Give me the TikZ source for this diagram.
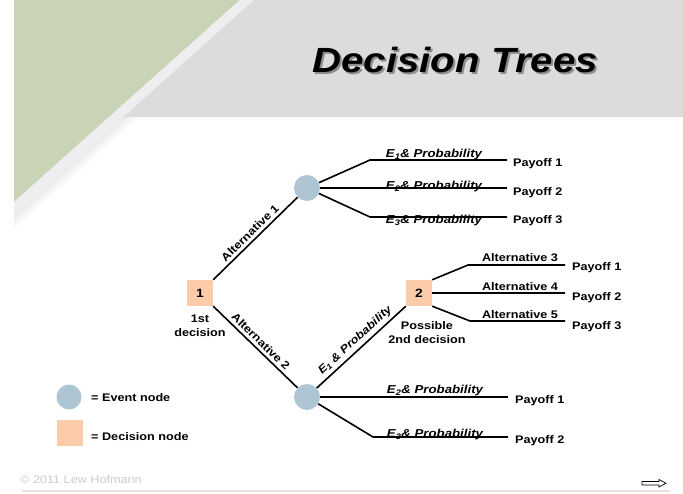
\documentclass[tikz,border=0pt]{standalone}
\usepackage{fontspec}
\setmainfont{Liberation Sans}[FakeStretch=1.15]
\definecolor{bandgray}{HTML}{DCDCDC}
\definecolor{wedge}{HTML}{C9D4B6}
\definecolor{stripe}{HTML}{EEEEF1}
\definecolor{peach}{HTML}{FCCBAA}
\definecolor{evblue}{HTML}{AEC6D4}
\definecolor{copygray}{HTML}{CCCCCC}
\definecolor{footline}{HTML}{E2E2E2}
\begin{document}
\begin{tikzpicture}[x=1pt,y=-1pt,
  txt/.style={font=\fontsize{11}{13}\selectfont\bfseries, inner sep=0pt},
  elab/.style={font=\fontsize{11.5}{13}\selectfont\bfseries\itshape, inner sep=0pt},
  decision/.style={fill=peach, minimum size=26pt, inner sep=0pt, font=\fontsize{12}{14}\selectfont\bfseries},
  event/.style={circle, fill=evblue, minimum size=26pt, inner sep=0pt},
  branch/.style={line width=1.6pt, black},
  sl/.style={sloped, above, inner sep=3pt, font=\fontsize{11}{13}\selectfont\bfseries},
  sli/.style={sloped, above, inner sep=3pt, font=\fontsize{11}{13}\selectfont\bfseries\itshape}
]
\useasboundingbox (0,0) rectangle (683,494);
% background
\foreach \d/\o in {0/0.30,4/0.22,8/0.14,12/0.07}{
  \fill[black!25, opacity=\o] (254+\d,0) -- (258+\d,0) -- (14,{215+(\d+4)/1.116}) -- (14,{215+\d/1.116}) -- cycle;
}
\fill[wedge] (14,0) -- (240,0) -- (14,202) -- cycle;
\fill[stripe] (240,0) -- (254,0) -- (14,215) -- (14,202) -- cycle;
\fill[bandgray] (254,0) -- (683,0) -- (683,117) -- (123.4,117) -- cycle;
% title
\node[font=\fontsize{35}{40}\selectfont\bfseries\itshape, text=black!45] at (457,62) {Decision Trees};
\node (title) [font=\fontsize{35}{40}\selectfont\bfseries\itshape] at (455,60) {Decision Trees};

% nodes
\node[decision] (d1) at (200,293) {1};
\node[event] (e1) at (307,188) {};
\node[event] (e2) at (307,397) {};
\node[decision] (d2) at (419,293) {2};

\node[txt, align=center] (d1lab) at (200,326) {1st\\[1pt]decision};
\node[txt, align=center] (d2lab) at (427,333) {Possible\\[1pt]2nd decision};

% coordinates
\coordinate (a1) at (370,160); \coordinate (a1e) at (507,160);
\coordinate (a2e) at (507,188);
\coordinate (a3) at (370,217); \coordinate (a3e) at (507,217);
\coordinate (b1) at (468,265); \coordinate (b1e) at (565,265);
\coordinate (b2e) at (565,293);
\coordinate (b3) at (470,321); \coordinate (b3e) at (565,321);
\coordinate (c1e) at (508,397);
\coordinate (c2) at (373,437); \coordinate (c2e) at (508,437);

% connectors
\draw[branch] (d1.north east) -- node[sl] {Alternative 1} (e1);
\draw[branch] (d1.south east) -- node[sl] {Alternative 2} (e2);
\draw[branch] (e2) -- node[sli] {E\textsubscript{1} \& Probability} (d2.south west);
\draw[branch] (e1) -- (a1) -- (a1e);
\draw[branch] (e1) -- (a2e);
\draw[branch] (e1) -- (a3) -- (a3e);
\draw[branch] (d2.north east) -- (b1) -- (b1e);
\draw[branch] (d2.east) -- (b2e);
\draw[branch] (d2.south east) -- (b3) -- (b3e);
\draw[branch] (e2) -- (c1e);
\draw[branch] (e2) -- (c2) -- (c2e);

% branch labels
\node[elab] (l1) at (434,155) {E\textsubscript{1}\& Probability};
\node[elab] (l2) at (434,187) {E\textsubscript{2}\& Probability};
\node[elab] (l3) at (434,221) {E\textsubscript{3}\& Probability};
\node[txt] (l4) at (520,258) {Alternative 3};
\node[txt] (l5) at (520,287) {Alternative 4};
\node[txt] (l6) at (520,315) {Alternative 5};
\node[elab] (l7) at (435,391) {E\textsubscript{2}\& Probability};
\node[elab] (l8) at (435,435) {E\textsubscript{3}\& Probability};

% payoffs
\node[txt, anchor=west] (p1) at (513,164) {Payoff 1};
\node[txt, anchor=west] (p2) at (513,193) {Payoff 2};
\node[txt, anchor=west] (p3) at (513,221) {Payoff 3};
\node[txt, anchor=west] (p4) at (572,268) {Payoff 1};
\node[txt, anchor=west] (p5) at (572,298) {Payoff 2};
\node[txt, anchor=west] (p6) at (572,327) {Payoff 3};
\node[txt, anchor=west] (p7) at (515,401) {Payoff 1};
\node[txt, anchor=west] (p8) at (515,441) {Payoff 2};

% legend
\node[event, minimum size=25pt] (leg1) at (69,397) {};
\node[txt, anchor=west] (leg1t) at (91,398) {= Event node};
\node[decision] (leg2) at (70,433) {};
\node[txt, anchor=west] (leg2t) at (91,437) {= Decision node};

% footer
\node[anchor=west, inner sep=0pt, text=copygray, font=\fontsize{11}{13}\selectfont] (copy) at (20,480) {© 2011 Lew Hofmann};
\draw[footline, line width=2.5pt] (22,491) -- (670,491);
\draw[line width=0.7pt, fill=white] (642,481.5) -- (659,481.5) -- (659,479.5) -- (666,483.3) -- (659,487) -- (659,485) -- (642,485) -- cycle;
\end{tikzpicture}
\end{document}
